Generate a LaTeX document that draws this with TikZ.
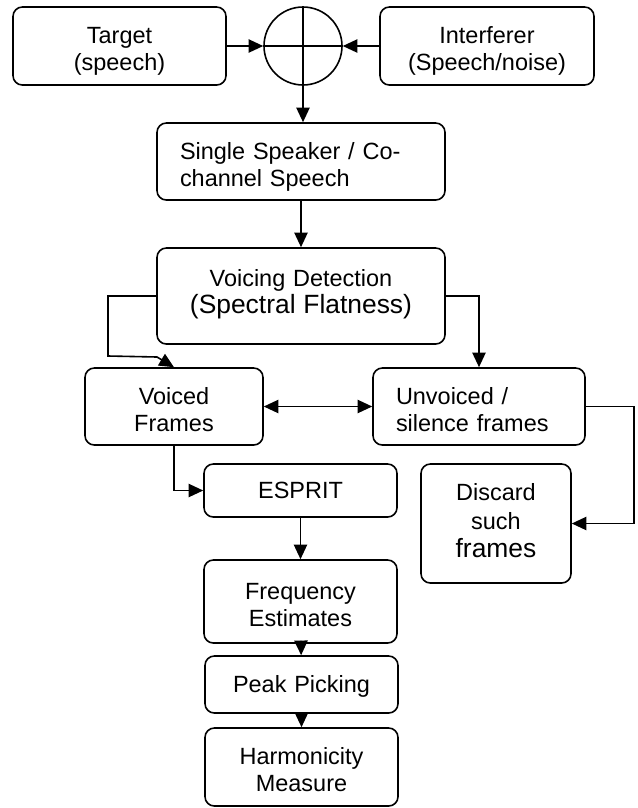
\documentclass[tikz,border=0pt]{standalone}
\usepackage{fontspec}
\setmainfont{Liberation Sans}
\usepackage{tikz}
\usetikzlibrary{positioning,arrows.meta}
\usepackage{xcolor}
\definecolor{flowblack}{HTML}{000000}
\newcommand{\largetxt}{\fontsize{19.8}{21}\selectfont}
\newcommand{\topstrut}{\rule{0pt}{22pt}}
\newcommand{\botstrut}[1][5pt]{\rule[-#1]{0pt}{#1}}

\begin{document}
\begin{tikzpicture}[
          x=0.75pt,y=-0.75pt,
          font=\fontsize{17.6}{20.3}\selectfont,
          box/.style={draw=flowblack,line width=1.2pt,rounded corners=7pt,
                      align=center,inner sep=0pt,text width=#1,minimum width=#1,
                      execute at begin node=\topstrut,execute at end node=\botstrut},
          lbox/.style={box=#1,align=left},
          sumnode/.style={draw=flowblack,line width=1.2pt,circle,minimum size=58.5pt,inner sep=0pt},
          arr/.style={-{Triangle[length=11pt,width=10pt]},line width=1.2pt,flowblack},
          dblarr/.style={{Triangle[length=11pt,width=10pt]}-{Triangle[length=11pt,width=10pt]},line width=1.2pt,flowblack}]
        \useasboundingbox (0,0) rectangle (637,808);
        % inputs and mixer
        \node[box=159.75pt,minimum height=58.5pt] (target) at (119.5,46) {Target\\(speech)};
        \node[sumnode] (sum) at (303,46) {};
        \node[box=160.5pt,minimum height=58.5pt] (interf) at (487,46) {Interferer\\(Speech/noise)};
        \draw[line width=1.2pt] (sum.north) -- (sum.south) (sum.west) -- (sum.east);
        % main chain
        \node[lbox=216pt,minimum height=57.75pt,text width=181.5pt] (single) at (301,161.5) {Single Speaker / Co-\\channel Speech};
        \node[box=216pt,minimum height=72pt] (vd) at (301,296) {Voicing Detection\\{\largetxt (Spectral Flatness)}\botstrut[16.5pt]};
        \node[box=133.5pt,minimum height=57.75pt] (voiced) at (174,406.5) {Voiced\\Frames};
        \node[lbox=159pt,minimum height=57.75pt,text width=124.5pt] (unv) at (479,406.5) {Unvoiced /\\silence frames};
        \node[box=144.75pt,minimum height=39.75pt] (esprit) at (300.5,490.5) {ESPRIT\botstrut[9.5pt]};
        \node[box=112.5pt,minimum height=89.25pt] (discard) at (496,523.5) {Discard\\[1pt]such\\[1pt]{\largetxt frames}\botstrut[13.5pt]};
        \node[box=144.75pt,minimum height=62.25pt] (freq) at (300.5,601.5) {Frequency\\Estimates};
        \node[box=144.75pt,minimum height=42.75pt] (peak) at (301.5,684.5) {Peak Picking\botstrut[9.5pt]};
        \node[box=144.75pt,minimum height=58.5pt] (harm) at (301.5,767) {Harmonicity\\Measure};
        \coordinate (lbend) at (108,356);
        % connectors
        \draw[arr] (target) -- (sum);
        \draw[arr] (interf) -- (sum);
        \draw[arr] (sum.south) -- (sum.south |- single.north);
        \draw[arr] (single) -- (vd);
        \draw[arr] (vd.west) -| (lbend) -- ++(49,1) -- (voiced.north);
        \draw[arr] (vd.east) -| (unv.north);
        \draw[dblarr] (voiced) -- (unv);
        \draw[arr] (unv.east) -- ++(48,0) |- (discard.east);
        \draw[arr] (voiced.south) |- (esprit.west);
        \draw[arr] (esprit) -- (freq);
        \draw[arr] (freq) -- (peak);
        \draw[arr] (peak) -- (harm);
      \end{tikzpicture}
\end{document}
